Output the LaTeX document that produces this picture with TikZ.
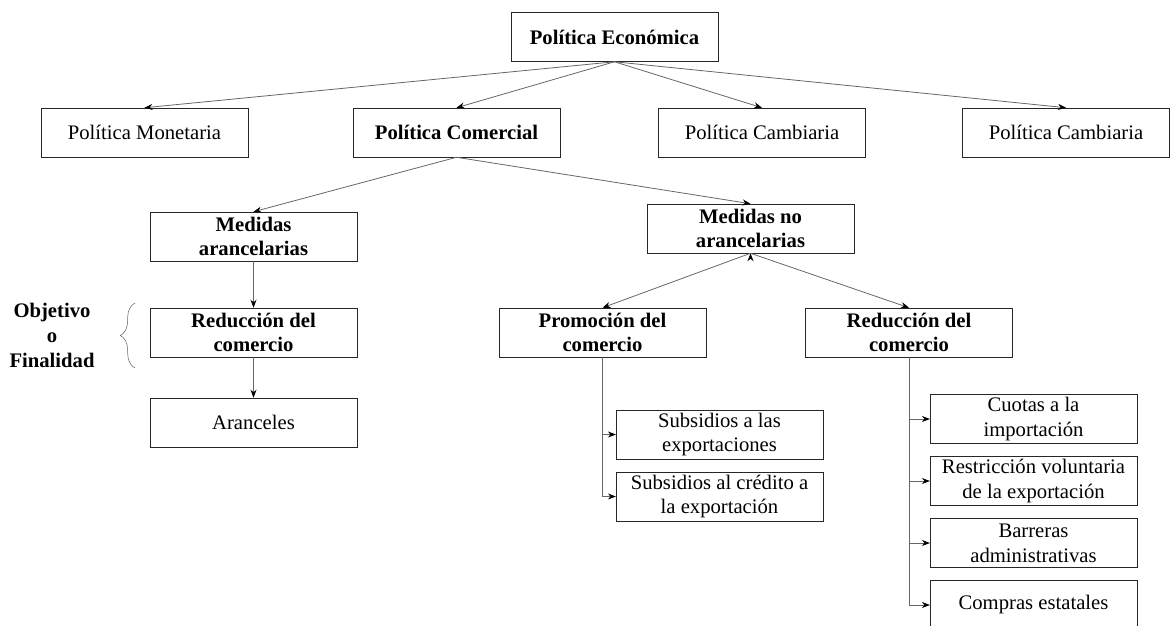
\documentclass[tikz,border=0pt]{standalone}
\usepackage{fontspec}
\setmainfont{Liberation Serif}
\usetikzlibrary{arrows,arrows.meta,positioning,decorations.pathreplacing}

\begin{document}
\begin{tikzpicture}[x=0.75pt,y=-0.75pt,->,>={Stealth[length=6pt,width=4.5pt,color=black]},
                    semithick, node distance=46.5pt]

  \tikzset{every node/.style={font=\fontsize{15.5}{18.5}\selectfont},
           box/.style={draw=black!85,thin,minimum width=155pt,
                       minimum height=36.75pt,align=center,inner sep=1pt},
           bbox/.style={box,font=\fontsize{15.5}{18.5}\selectfont\bfseries},
           conn/.style={draw=black!60}}
  \useasboundingbox (0,0) rectangle (1170,625);

  \node[bbox] (eco) at (614.5,37)     {Política Económica};
  \node[box]  (mon) at (144.5,132.5)  {Política Monetaria};
  \node[bbox] (com) at (456.5,132.5)  {Política Comercial};
  \node[box]  (cam) at (762,132.5)    {Política Cambiaria};
  \node[box]  (camb) at (1066,132.5)  {Política Cambiaria};

  \node[bbox] (mar)  at (253.5,236.5) {Medidas\\arancelarias};
  \node[bbox] (mnar) at (750.5,228.5) {Medidas no\\arancelarias};

  \node[bbox] (redA) [below of=mar, node distance=72pt]   {Reducción del\\comercio};
  \node[box]  (aran) [below of=redA, node distance=67.5pt] {Aranceles};

  \node[bbox] (pro)  at (602.5,332.5) {Promoción del\\comercio};
  \node[bbox] (redB) at (909,332.5)   {Reducción del\\comercio};

  \node[box]  (subA) at (719.5,434.5) {Subsidios a las\\exportaciones};
  \node[box]  (subB) [below of=subA]  {Subsidios al crédito a\\la exportación};

  \node[box]  (cuo)  at (1033.5,419)  {Cuotas a la\\importación};
  \node[box]  (res)  [below of=cuo]   {Restricción voluntaria\\de la exportación};
  \node[box]  (bar)  [below of=res]   {Barreras\\administrativas};
  \node[box]  (comp) [below of=bar]   {Compras estatales};

  \node[font=\fontsize{15.5}{18.75}\selectfont\bfseries,align=center] (obj)
        at (52,335) {Objetivo\\o\\Finalidad};
  \draw[-,draw=black!60,thin,decorate,decoration={brace,amplitude=11pt}]
        (135,368) -- (135,303);

  \path[conn] (eco.south)  edge (mon.north)
              (eco.south)  edge (com.north)
              (eco.south)  edge (cam.north)
              (eco.south)  edge (camb.north)
              (com.south)  edge (mar.north)
              (com.south)  edge (mnar.north)
              (mar.south)  edge (redA.north)
              (redA.south) edge (aran.north)
              (mnar.south) edge (pro.north)
              (mnar.south) edge (redB.north);

  \draw[conn] (pro.south) |- (subA.west);
  \draw[conn] (pro.south) |- (subB.west);
  \draw[conn] (redB.south) |- (cuo.west);
  \draw[conn] (redB.south) |- (res.west);
  \draw[conn] (redB.south) |- (bar.west);
  \draw[conn] (redB.south) |- (comp.west);
\end{tikzpicture}
\end{document}
